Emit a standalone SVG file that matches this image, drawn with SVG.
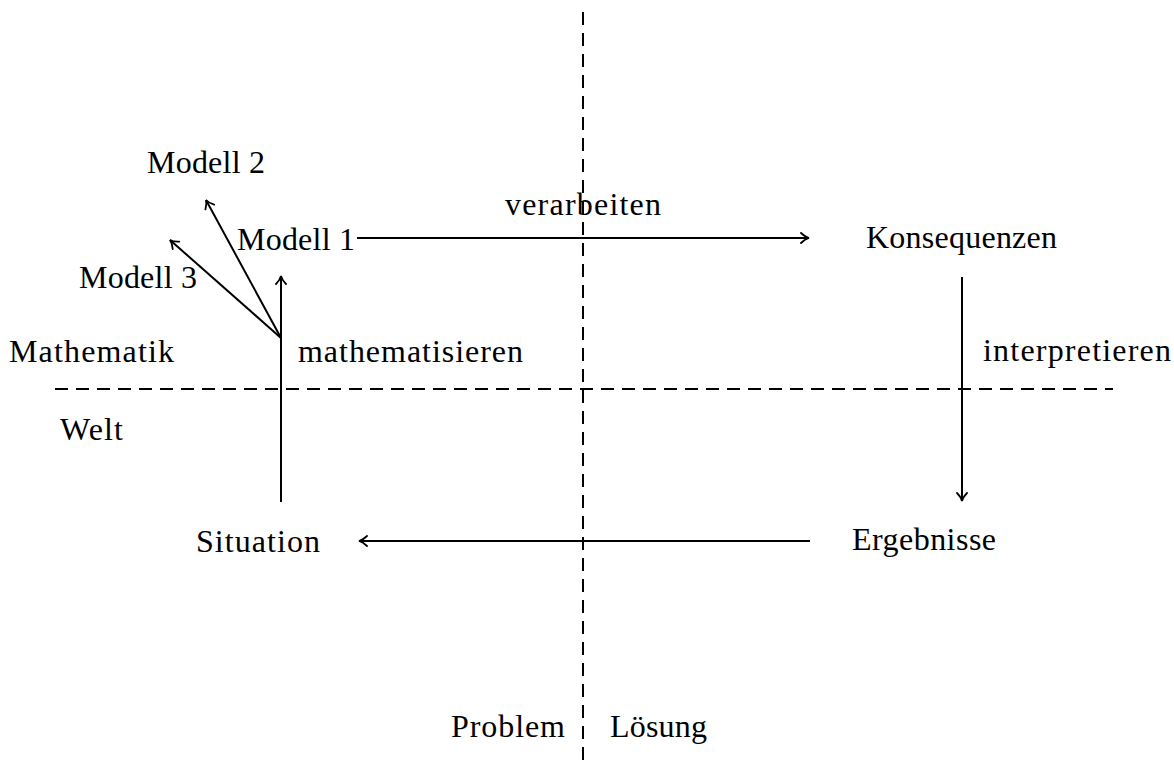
<svg xmlns="http://www.w3.org/2000/svg" width="1174" height="767" viewBox="0 0 1174 767">
<style>
text{font-family:"Liberation Serif","DejaVu Serif",serif;font-size:32px;fill:#000}
.c{stroke:#000;stroke-width:2;fill:none}
.d{stroke:#000;stroke-width:2;fill:none;stroke-dasharray:13 8}
</style>
<defs>
<marker id="a" viewBox="-10 -6 12 12" refX="0" refY="0" markerWidth="12" markerHeight="12" markerUnits="userSpaceOnUse" orient="auto">
<path d="M-8,-5 C-5,-2 -2,-0.5 0,0 C-2,0.5 -5,2 -8,5" fill="none" stroke="#000" stroke-width="1.8" stroke-linecap="round"/>
</marker>
</defs>
<rect width="1174" height="767" fill="#fff"/>
<g id="axes">
<line class="d" x1="583" y1="12" x2="583" y2="767"/>
<line class="d" x1="55" y1="389" x2="1113" y2="389"/>
</g>
<g id="connectors">
<line class="c" x1="357" y1="238" x2="809" y2="238" marker-end="url(#a)"/>
<line class="c" x1="281" y1="502" x2="281" y2="276" marker-end="url(#a)"/>
<line class="c" x1="281" y1="338" x2="206" y2="200" marker-end="url(#a)"/>
<line class="c" x1="281" y1="338" x2="170" y2="240" marker-end="url(#a)"/>
<line class="c" x1="962" y1="277" x2="962" y2="501" marker-end="url(#a)"/>
<line class="c" x1="810" y1="541" x2="359" y2="541" marker-end="url(#a)"/>
</g>
<g id="modell2"><text x="147" y="173" textLength="118">Modell 2</text></g>
<g id="verarbeiten"><text x="505" y="215" textLength="156">verarbeiten</text></g>
<g id="modell1"><text x="237" y="250" textLength="118">Modell 1</text></g>
<g id="konsequenzen"><text x="866" y="248" textLength="191">Konsequenzen</text></g>
<g id="modell3"><text x="79" y="288" textLength="118">Modell 3</text></g>
<g id="mathematik"><text x="9" y="362" textLength="165">Mathematik</text></g>
<g id="mathematisieren"><text x="298" y="362" textLength="225">mathematisieren</text></g>
<g id="interpretieren"><text x="983" y="361" textLength="188">interpretieren</text></g>
<g id="welt"><text x="60" y="440" textLength="63">Welt</text></g>
<g id="situation"><text x="196" y="552" textLength="124">Situation</text></g>
<g id="ergebnisse"><text x="852" y="550" textLength="144">Ergebnisse</text></g>
<g id="problem"><text x="451" y="737" textLength="114">Problem</text></g>
<g id="loesung"><text x="610" y="737" textLength="97">Lösung</text></g>
</svg>
